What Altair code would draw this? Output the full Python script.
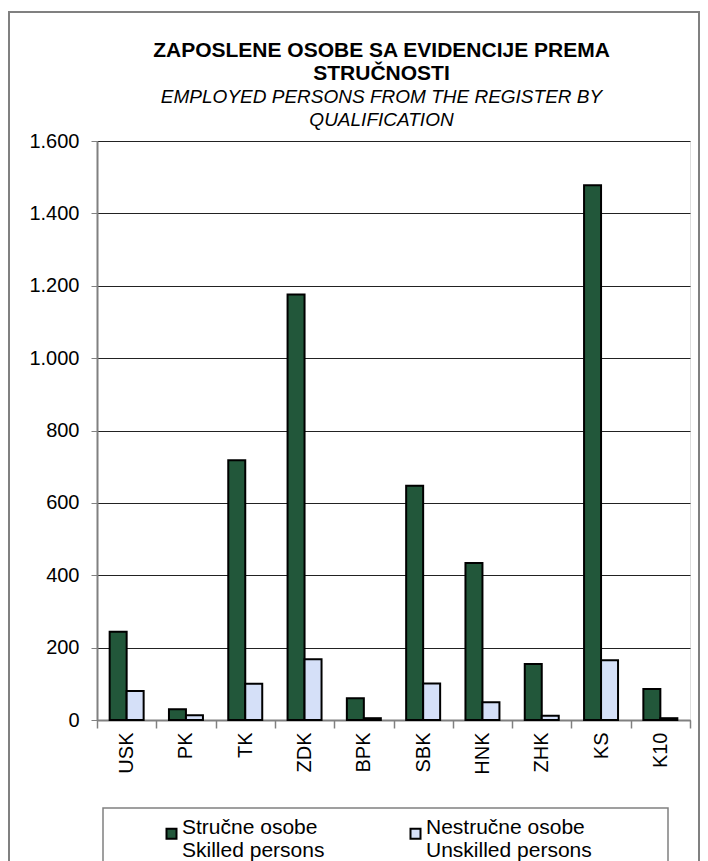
import altair as alt
import pandas as pd

categories = ["USK", "PK", "TK", "ZDK", "BPK", "SBK", "HNK", "ZHK", "KS", "K10"]
skilled = [244, 30, 718, 1176, 60, 647, 434, 155, 1478, 86]
unskilled = [80, 13, 100, 168, 5, 101, 49, 12, 165, 5]
series = ["Stručne osobe", "Nestručne osobe"]
series_en = ["Skilled persons", "Unskilled  persons"]
colors = ["#22573a", "#d5e0f8"]
y_ticks = [0, 200, 400, 600, 800, 1000, 1200, 1400, 1600]

rows = []
for c, s, u in zip(categories, skilled, unskilled):
    rows.append({"cat": c, "series": series[0], "value": s})
    rows.append({"cat": c, "series": series[1], "value": u})
df = pd.DataFrame(rows)

FONT = "Liberation Sans"

label_expr = (
    "datum.label == '" + series[0] + "' ? ['" + series[0] + "', '" + series_en[0] + "'] : ['"
    + series[1] + "', '" + series_en[1] + "']"
)

bars = alt.Chart(df).mark_bar(stroke="black", strokeWidth=2).encode(
    x=alt.X("cat:N", sort=categories, title=None,
            scale=alt.Scale(paddingInner=0, paddingOuter=0),
            axis=alt.Axis(labelAngle=-90, labelFontSize=20, labelFont=FONT, labelColor="black",
                          domainColor="#808080", domainWidth=2, tickColor="#808080", tickWidth=1.5,
                          tickSize=8, tickBand="extent", labelPadding=4)),
    xOffset=alt.XOffset("series:N", sort=series,
                        scale=alt.Scale(paddingInner=0, paddingOuter=0.745)),
    y=alt.Y("value:Q", title=None,
            scale=alt.Scale(domain=[0, 1600], nice=False),
            axis=alt.Axis(values=y_ticks, labelExpr="replace(datum.label, ',', '.')",
                          labelFontSize=20, labelFont=FONT, labelColor="black",
                          grid=True, gridColor="#222222", gridWidth=1,
                          domainColor="#808080", domainWidth=2, tickColor="#808080",
                          tickSize=6, labelPadding=12)),
    color=alt.Color("series:N", sort=series,
                    scale=alt.Scale(domain=series, range=colors),
                    legend=alt.Legend(title=None, orient="none", legendX=64, legendY=682,
                                      direction="horizontal", symbolType="square", symbolSize=100,
                                      symbolStrokeColor="black", symbolStrokeWidth=2,
                                      labelFontSize=21, labelFont=FONT, labelColor="black",
                                      labelExpr=label_expr, labelBaseline="alphabetic",
                                      labelOffset=0, labelLimit=400, columnPadding=80, padding=0)),
)

frame_df = pd.DataFrame({"k": [1]})
outer = alt.Chart(frame_df).mark_rect(fillOpacity=0, stroke="#808080", strokeWidth=2).encode(
    x=alt.value(-88), x2=alt.value(602), y=alt.value(-129), y2=alt.value(760)
)
legend_box = alt.Chart(frame_df).mark_rect(fillOpacity=0, stroke="#808080", strokeWidth=1.5).encode(
    x=alt.value(6), x2=alt.value(571), y=alt.value(667), y2=alt.value(760)
)

chart = alt.layer(outer, legend_box, bars).properties(
    width=593, height=579,
    autosize=alt.AutoSizeParams(type="none"),
    padding={"left": 89, "top": 133, "right": 10, "bottom": 141},
    title=alt.TitleParams(
        text=["ZAPOSLENE OSOBE SA EVIDENCIJE PREMA", "STRUČNOSTI"],
        subtitle=["EMPLOYED PERSONS FROM THE REGISTER BY", "QUALIFICATION"],
        font=FONT, fontSize=21, fontWeight="bold", color="black", lineHeight=23,
        subtitleFont=FONT, subtitleFontSize=19, subtitleFontStyle="italic",
        subtitleFontWeight="normal", subtitleColor="black", subtitleLineHeight=23,
        subtitlePadding=4, anchor="middle", frame="group", dx=-12, offset=-119,
    ),
).configure_view(stroke="#808080", strokeWidth=2).configure(background="white")

chart.save("out.html", embed_options={"renderer": "svg", "actions": False})
